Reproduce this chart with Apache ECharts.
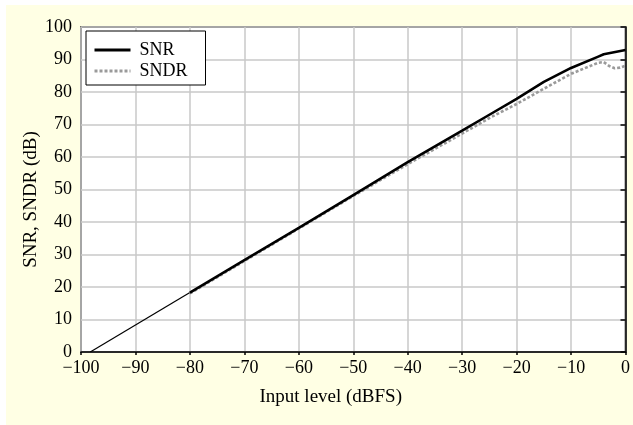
<!DOCTYPE html>
<html>
<head>
<meta charset="utf-8">
<script src="https://cdn.jsdelivr.net/npm/echarts@6/dist/echarts.min.js"></script>
<style>
  html, body { margin: 0; padding: 0; background: #fff; }
  #wrap { position: relative; width: 633px; height: 425px; }
  #paper { position: absolute; left: 6px; top: 5px; right: 0; bottom: 0; background: #FFFFE4; }
  #chart { position: absolute; left: 0; top: 0; width: 633px; height: 425px; }
</style>
</head>
<body>
<div id="wrap">
  <div id="paper"></div>
  <div id="chart"></div>
</div>
<script>
// thin extrapolation of SNR below -80 dBFS
const extX = [-98.3, -80]
const extY = [0, 18.3]

// SNR (solid black)
const snrX = [-80, -70, -60, -50, -40, -30, -25, -20, -15, -10, -5, -4, 0]
const snrY = [18.3, 28.3, 38.2, 48.3, 58.4, 68.1, 73.0, 77.9, 83.1, 87.4, 90.9, 91.6, 92.9]

// SNDR (grey dotted)
const sndrX = [-80, -70, -60, -50, -40, -30, -25, -20, -15, -10, -5, -4, -3, -2, -1, 0]
const sndrY = [18.0, 28.0, 38.0, 48.0, 57.8, 67.2, 72.0, 76.3, 81.0, 85.6, 89.0, 89.2, 88.0, 87.3, 87.5, 88.1]

const pairs = (xs, ys) => xs.map((x, i) => [x, ys[i]])
const minus = (v) => String(v).replace('-', '\u2212')

const font = 'Liberation Serif'

const myChart = echarts.init(document.getElementById('chart'), null, { renderer: 'canvas' })

const option = {
  animation: false,
  backgroundColor: 'transparent',
  textStyle: { fontFamily: font },
  grid: {
    left: 81,
    right: 6,
    top: 27,
    bottom: 73,
    show: true,
    backgroundColor: '#fff',
    borderColor: '#000',
    borderWidth: 1.5,
  },
  legend: {
    data: [
      { name: 'SNR', lineStyle: { width: 3 } },
      { name: 'SNDR', lineStyle: { width: 3 } },
    ],
    orient: 'vertical',
    left: 86,
    top: 31,
    padding: [10, 18, 5, 7],
    itemWidth: 36,
    itemHeight: 14,
    itemGap: 3,
    backgroundColor: '#fff',
    borderColor: '#000',
    borderWidth: 1,
    itemStyle: { opacity: 0 },
    textStyle: { fontFamily: font, fontSize: 18, color: '#000', padding: [0, 0, 0, 4] },
  },
  xAxis: {
    type: 'value',
    min: -100,
    max: 0,
    interval: 10,
    name: 'Input level (dBFS)',
    nameLocation: 'middle',
    nameGap: 36,
    nameTextStyle: { fontFamily: font, fontSize: 19, color: '#000', padding: [0, 45, 0, 0] },
    axisLine: { lineStyle: { color: '#000', width: 1.5 } },
    axisTick: { length: 3, lineStyle: { color: '#000', width: 1.5 } },
    axisLabel: { fontFamily: font, fontSize: 18, color: '#000', margin: 7, formatter: minus },
    splitLine: { lineStyle: { color: '#C8C8C8', width: 1.5 } },
  },
  yAxis: {
    type: 'value',
    min: 0,
    max: 100,
    interval: 10,
    name: 'SNR, SNDR (dB)',
    nameLocation: 'middle',
    nameRotate: 90,
    nameGap: 40,
    nameMoveOverlap: false,
    nameTextStyle: { fontFamily: font, fontSize: 19, color: '#000', padding: [0, 20, 0, 0] },
    axisLine: { lineStyle: { color: '#000', width: 1.5 } },
    axisTick: { length: 5, lineStyle: { color: '#000', width: 1.5 } },
    axisLabel: { fontFamily: font, fontSize: 18, color: '#000', margin: 9 },
    splitLine: { lineStyle: { color: '#C8C8C8', width: 1.5 } },
  },
  series: [
    {
      name: 'ext',
      type: 'line',
      symbol: 'none',
      lineStyle: { color: '#000', width: 1.2 },
      data: pairs(extX, extY),
      z: 3,
    },
    {
      name: 'SNDR',
      type: 'line',
      symbol: 'none',
      lineStyle: { color: '#9A9A9A', width: 2.6, type: [3, 2] },
      itemStyle: { color: '#9A9A9A' },
      data: pairs(sndrX, sndrY),
      z: 3,
    },
    {
      name: 'SNR',
      type: 'line',
      symbol: 'none',
      lineStyle: { color: '#000', width: 2.6 },
      itemStyle: { color: '#000' },
      data: pairs(snrX, snrY),
      z: 4,
    },
  ],
}

myChart.setOption(option)
</script>
</body>
</html>
